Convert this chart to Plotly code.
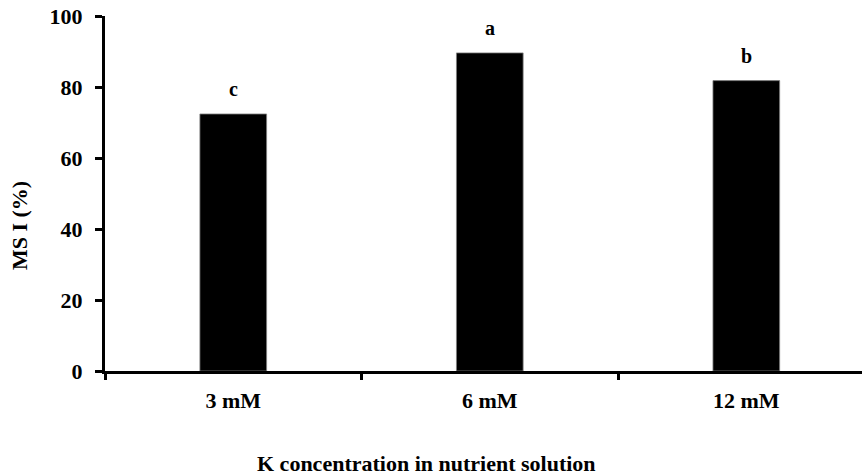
import plotly.graph_objects as go

categories = ["3 mM", "6 mM", "12 mM"]
msi_values = [72.4, 89.6, 81.8]
letters = ["c", "a", "b"]
y_ticks = [0, 20, 40, 60, 80, 100]

FONT = "Liberation Serif"

fig = go.Figure()
fig.add_trace(go.Bar(
    x=list(range(len(categories))),
    y=msi_values,
    width=0.26,
    marker=dict(color="black", line=dict(color="#808080", width=0.8)),
    showlegend=False,
    hoverinfo="skip",
))

for i, (v, t) in enumerate(zip(msi_values, letters)):
    fig.add_annotation(x=i, y=v, text="<b>%s</b>" % t, showarrow=False,
                       xanchor="center", yanchor="bottom", yshift=12,
                       font=dict(family=FONT, size=20, color="black"))

fig.add_annotation(xref="paper", yref="paper", x=-0.112, y=0.409,
                   xanchor="center", yanchor="middle",
                   text="<b>MS I (%)</b>", textangle=-90, showarrow=False,
                   font=dict(family=FONT, size=22, color="black"))
fig.add_annotation(xref="paper", yref="paper", x=0.425, y=-0.261,
                   xanchor="center", yanchor="middle",
                   text="<b>K concentration in nutrient solution</b>", showarrow=False,
                   font=dict(family=FONT, size=22, color="black"))

fig.update_layout(
    width=862, height=475,
    margin=dict(l=105, r=0, t=16, b=104),
    paper_bgcolor="white", plot_bgcolor="white",
    font=dict(family=FONT, color="black"),
)
fig.update_xaxes(
    range=[-0.5, 2.451],
    tickmode="array", tickvals=[0, 1, 2], ticktext=["<b>%s</b>" % c for c in categories],
    tickfont=dict(family=FONT, size=22, color="black"),
    ticklabelstandoff=8,
    showline=True, linecolor="black", linewidth=3,
    ticks="", showgrid=False, zeroline=False,
)
fig.update_xaxes(minor=dict(tickmode="array", tickvals=[-0.5, 0.5, 1.5], ticks="outside",
                            ticklen=6, tickwidth=3, tickcolor="black"))
fig.update_yaxes(
    range=[0, 100],
    tickmode="array", tickvals=y_ticks, ticktext=["<b>%d</b>" % v for v in y_ticks],
    tickfont=dict(family=FONT, size=22, color="black"),
    ticklabelstandoff=8, ticklabeloverflow="allow",
    showline=True, linecolor="black", linewidth=3,
    ticks="outside", ticklen=7, tickwidth=3, tickcolor="black",
    showgrid=False, zeroline=False,
)

fig.write_html("out.html", config={"displayModeBar": False},
               post_script="document.body.style.margin='0';")
